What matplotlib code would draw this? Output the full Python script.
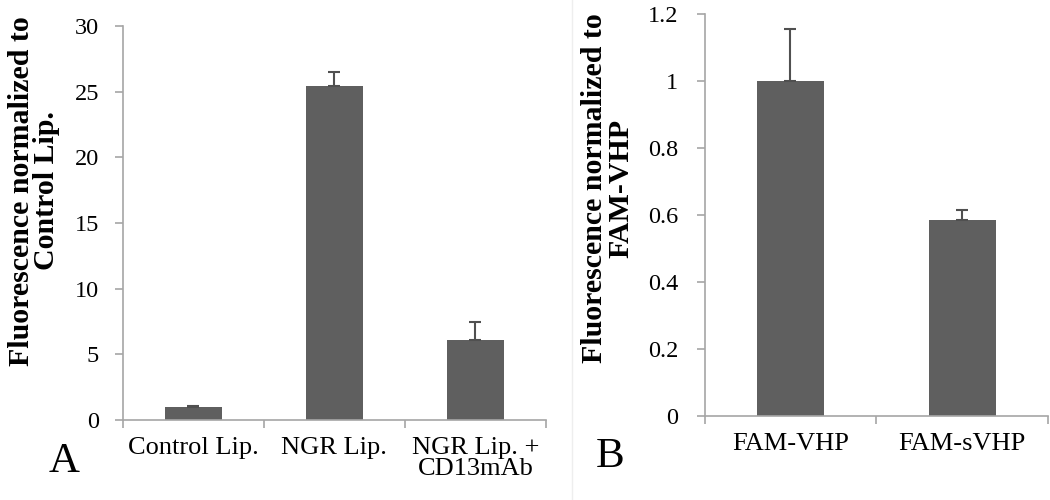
import numpy as np
import matplotlib.pyplot as plt

# ---- data ----
left_labels = ["Control Lip.", "NGR Lip.", "NGR Lip. +\nCD13mAb"]
left_values = [1.0, 25.4, 6.1]
left_errors = [0.1, 1.1, 1.4]

right_labels = ["FAM-VHP", "FAM-sVHP"]
right_values = [1.0, 0.585]
right_errors = [0.155, 0.03]

plt.rcParams["font.family"] = ["Liberation Serif", "DejaVu Serif"]
bar_color = "#5f5f5f"
axis_color = "#a6a6a6"

fig = plt.figure(figsize=(10.5, 5), dpi=100)
ax1 = fig.add_axes([0.117, 0.16, 0.403, 0.788])
ax2 = fig.add_axes([0.671, 0.168, 0.327, 0.804])


def style_axes(ax, labels, values, errors, ylim, yticks, width, ypad):
    x = np.arange(len(labels))
    ax.bar(x, values, width=width, color=bar_color, zorder=2)
    ax.errorbar(x, values, yerr=[np.zeros(len(errors)), errors], fmt="none",
                ecolor="#505050", elinewidth=1.5, capsize=4.5, capthick=1.5, zorder=3)
    ax.set_xlim(-0.5, len(labels) - 0.5)
    ax.set_ylim(*ylim)
    ax.set_yticks(yticks)
    ax.set_yticklabels([f"{v:g}" for v in yticks])
    ax.set_xticks(x)
    ax.set_xticklabels(labels, linespacing=0.95)
    ax.set_xticks(np.arange(len(labels) + 1) - 0.5, minor=True)
    ax.tick_params(axis="x", which="major", length=0, pad=12, labelsize=19)
    ax.tick_params(axis="x", which="minor", length=6, color=axis_color, width=1.2)
    ax.tick_params(axis="y", length=6, color=axis_color, width=1.2, pad=ypad, labelsize=17.5)
    for s in ["top", "right"]:
        ax.spines[s].set_visible(False)
    for s in ["left", "bottom"]:
        ax.spines[s].set_color(axis_color)
        ax.spines[s].set_linewidth(1.2)


style_axes(ax1, left_labels, left_values, left_errors, (0, 30),
           [0, 5, 10, 15, 20, 25, 30], 0.4, 11)
style_axes(ax2, right_labels, right_values, right_errors, (0, 1.2),
           [0, 0.2, 0.4, 0.6, 0.8, 1.0, 1.2], 0.39, 13)

# y axis titles, placed like in the original figure
fig.text(0.032, 0.618, "Fluorescence normalized to\nControl Lip.", rotation=90,
         fontsize=21.5, fontweight="bold", ha="center", va="center", linespacing=0.9)
fig.text(0.579, 0.624, "Fluorescence normalized to\nFAM-VHP", rotation=90,
         fontsize=21.5, fontweight="bold", ha="center", va="center", linespacing=0.95)

fig.text(0.061, 0.076, "A", fontsize=31, ha="center", va="center")
fig.text(0.581, 0.086, "B", fontsize=31, ha="center", va="center")

# faint divider between panels
fig.add_artist(plt.Line2D([0.545, 0.545], [0.0, 1.0], color="#eeeeee", lw=1))

fig.savefig("out.png", dpi=100)
